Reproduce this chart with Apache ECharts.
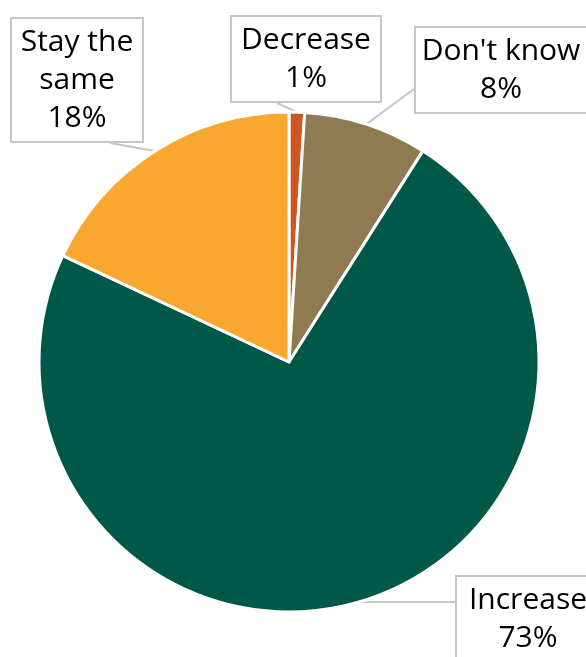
<!DOCTYPE html>
<html>
<head>
<meta charset="utf-8">
<script src="https://cdn.jsdelivr.net/npm/echarts@6/dist/echarts.min.js"></script>
<style>
  html, body { margin: 0; padding: 0; background: #fff; }
  #chart { width: 586px; height: 657px; }
</style>
</head>
<body>
<div id="chart"></div>
<script>
// Survey answer shares, clockwise from 12 o'clock
const categories = ['Decrease', "Don't know", 'Increase', 'Stay the same'];
const shares = [1, 8, 73, 18];
const sliceColors = ['#CF5620', '#8E7B52', '#005948', '#F9A82F'];
// Display text for each callout (line breaks as drawn)
const calloutNames = ['Decrease', "Don't know", 'Increase', 'Stay the\nsame'];

// Callout box centres and inner widths in pixels
const calloutCentres = [
  [306, 59],
  [501, 70],
  [528, 619],
  [77, 80]
];
const calloutWidths = [128, 150, 122, 110];
// Where each pointer meets its box: edge ('bottom' | 'left') and offset from the box centre
const pointerJoins = [
  ['bottom', -29],
  ['left', 19],
  ['left', -17],
  ['bottom', 33]
];

const chart = echarts.init(document.getElementById('chart'), null, { renderer: 'canvas' });

chart.setOption({
  animation: false,
  series: [{
    type: 'pie',
    center: [289, 362],
    radius: 250,
    startAngle: 90,
    clockwise: true,
    data: categories.map((c, i) => ({
      name: c,
      value: shares[i],
      itemStyle: { color: sliceColors[i] },
      label: { width: calloutWidths[i] }
    })),
    itemStyle: { borderColor: '#ffffff', borderWidth: 3 },
    label: {
      show: true,
      position: 'outside',
      formatter: p => calloutNames[p.dataIndex] + '\n' + p.value + '%',
      fontFamily: 'Open Sans',
      fontSize: 30,
      lineHeight: 38,
      color: '#000000',
      align: 'center',
      overflow: 'none',
      backgroundColor: '#ffffff',
      borderColor: '#c6c6c6',
      borderWidth: 2,
      padding: [4, 10, 4, 10]
    },
    labelLine: {
      show: true,
      length: 10,
      length2: 10,
      lineStyle: { color: '#c6c6c6', width: 2 }
    },
    labelLayout: p => {
      const i = p.dataIndex;
      const [cx, cy] = calloutCentres[i];
      const w = p.labelRect.width, h = p.labelRect.height;
      const [edge, off] = pointerJoins[i];
      const join = edge === 'bottom' ? [cx + off, cy + h / 2] : [cx - w / 2, cy + off];
      const tip = p.labelLinePoints ? p.labelLinePoints[0] : join;
      return {
        x: cx,
        y: cy,
        align: 'center',
        verticalAlign: 'middle',
        labelLinePoints: [tip, join, join]
      };
    }
  }]
});
</script>
</body>
</html>
